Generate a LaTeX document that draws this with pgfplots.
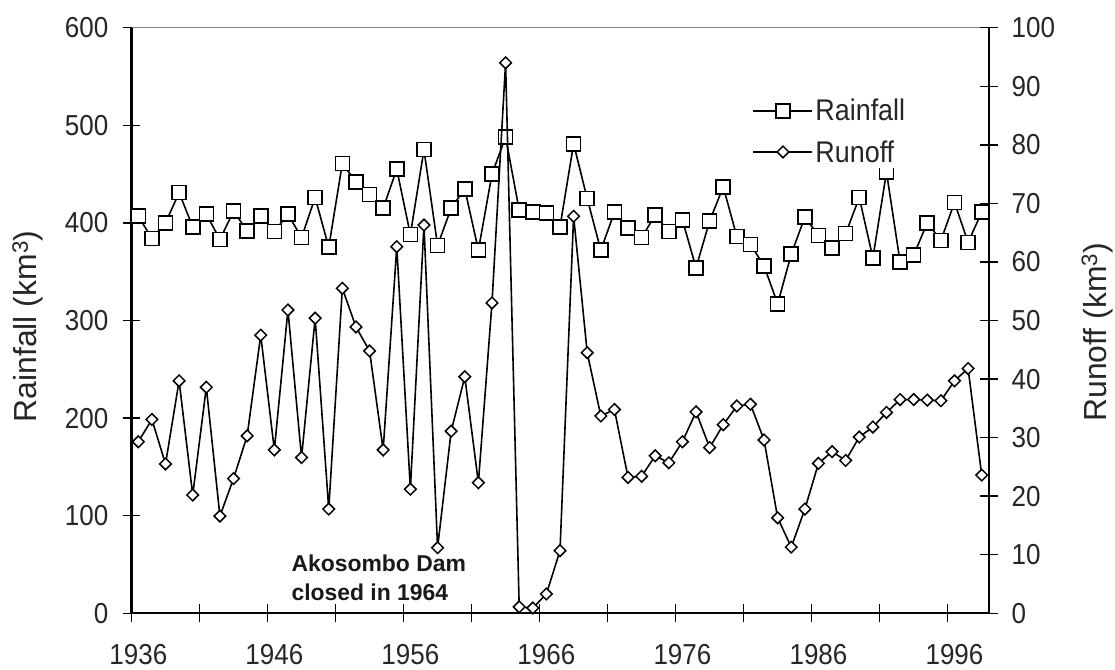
\documentclass[border=0pt]{standalone}
\usepackage{fontspec}
\setmainfont{Liberation Sans}
\newfontfamily\tickfont[FakeStretch=0.9]{Liberation Sans}
\usepackage{pgfplots}
\usepackage{pgfplotstable}
\pgfplotsset{compat=1.18}

\pgfplotstableread{
year rain
1936 407
1937 384
1938 400
1939 431
1940 396
1941 409
1942 383
1943 412
1944 392
1945 407
1946 391
1947 409
1948 385
1949 426
1950 375
1951 461
1952 442
1953 429
1954 415
1955 455
1956 388
1957 475
1958 377
1959 415
1960 435
1961 372
1962 450
1963 488
1964 413
1965 411
1966 410
1967 396
1968 481
1969 425
1970 372
1971 411
1972 395
1973 385
1974 408
1975 391
1976 403
1977 354
1978 402
1979 437
1980 386
1981 378
1982 356
1983 317
1984 368
1985 406
1986 387
1987 374
1988 389
1989 426
1990 364
1991 452
1992 360
1993 367
1994 400
1995 382
1996 421
1997 380
1998 411
}\raindata

\pgfplotstableread{
year runoff
1936 29.3
1937 33.1
1938 25.5
1939 39.7
1940 20.2
1941 38.6
1942 16.6
1943 23.0
1944 30.3
1945 47.5
1946 27.9
1947 51.8
1948 26.6
1949 50.4
1950 17.8
1951 55.5
1952 48.9
1953 44.8
1954 27.9
1955 62.6
1956 21.2
1957 66.3
1958 11.2
1959 31.1
1960 40.4
1961 22.3
1962 53.0
1963 94.0
1964 1.1
1965 0.9
1966 3.3
1967 10.7
1968 67.8
1969 44.5
1970 33.7
1971 34.8
1972 23.2
1973 23.4
1974 26.9
1975 25.7
1976 29.3
1977 34.4
1978 28.3
1979 32.2
1980 35.4
1981 35.7
1982 29.6
1983 16.3
1984 11.3
1985 17.8
1986 25.6
1987 27.6
1988 26.1
1989 30.1
1990 31.8
1991 34.3
1992 36.5
1993 36.5
1994 36.4
1995 36.3
1996 39.7
1997 41.8
1998 23.6
}\runoffdata

\pgfplotsset{
  rainstyle/.style={draw=black, line width=1.6bp, mark=square*, mark size=7bp,
    mark options={fill=white, draw=black, line width=1.6bp, solid}},
  runstyle/.style={draw=black, line width=1.6bp, mark=square*, mark size=4.1bp,
    mark options={fill=white, draw=black, line width=1.5bp, rotate=45, solid}},
  common/.style={
    at={(131.5bp,56.7bp)}, anchor=south west,
    width=857bp, height=585.6bp, scale only axis,
    xmin=1935.5, xmax=1998.5,
    tick align=center, major tick length=18bp,
    axis line style={line width=2bp, black},
    tick style={line width=1.5bp, black},
    tick label style={font=\fontsize{29}{30}\selectfont\tickfont, text=black!85, inner sep=0pt},
    /pgf/number format/assume math mode=true,
    clip=false,
  },
}

\begin{document}
\begin{tikzpicture}
\path[use as bounding box] (0,0) rectangle (1115bp,670bp);
\begin{axis}[common,
  ymin=0, ymax=600,
  axis x line*=bottom, axis y line*=left,
  xtick={1935.5,1940.5,...,1995.5}, xticklabels={},
  extra x ticks={1936,1946,1956,1966,1976,1986,1996},
  extra x tick labels={1936,1946,1956,1966,1976,1986,1996},
  extra x tick style={major tick length=0pt, xticklabel style={anchor=north, yshift=-31bp}},
  ytick={0,100,...,600},
  yticklabel style={anchor=east, xshift=-14bp},
  ylabel={Rainfall (km\textsuperscript{3})},
  every axis y label/.style={at={(rel axis cs:-0.1208,0.49)}, rotate=90, anchor=center,
    font=\fontsize{32}{36}\selectfont, text=black!85},
]
\draw[gray, line width=1.2bp] (rel axis cs:0,1) -- (rel axis cs:1,1);
\addplot[rainstyle] table[x=year, y=rain] {\raindata};
\node[anchor=west, align=left, font=\fontsize{23}{29}\selectfont\bfseries, text=black!90]
  at (rel axis cs:0.1826,0.0603) {Akosombo Dam\\closed in 1964};
\end{axis}
\begin{axis}[common,
  ymin=0, ymax=100,
  axis y line*=right, axis x line=none,
  ytick={0,10,...,100},
  yticklabel style={anchor=west, xshift=14bp},
  ylabel={Runoff (km\textsuperscript{3})},
  every axis y label/.style={at={(rel axis cs:1.1266,0.48)}, rotate=90, anchor=center,
    font=\fontsize{32}{36}\selectfont, text=black!85},
  legend style={at={(rel axis cs:0.722,0.885)}, anchor=north west, draw=none, fill=white,
    font=\fontsize{30}{32}\selectfont\tickfont, text=black!85,
    row sep=14bp, inner sep=2bp, nodes={inner sep=2bp}},
  legend cell align=left,
  legend image code/.code={\draw[mark repeat=2, mark phase=2, #1, line width=2bp] plot coordinates {(0bp,0bp) (29.5bp,0bp) (59bp,0bp)};},
]
\addlegendimage{rainstyle}
\addlegendentry{Rainfall}
\addplot[runstyle] table[x=year, y=runoff] {\runoffdata};
\addlegendentry{Runoff}
\end{axis}
\end{tikzpicture}
\end{document}
